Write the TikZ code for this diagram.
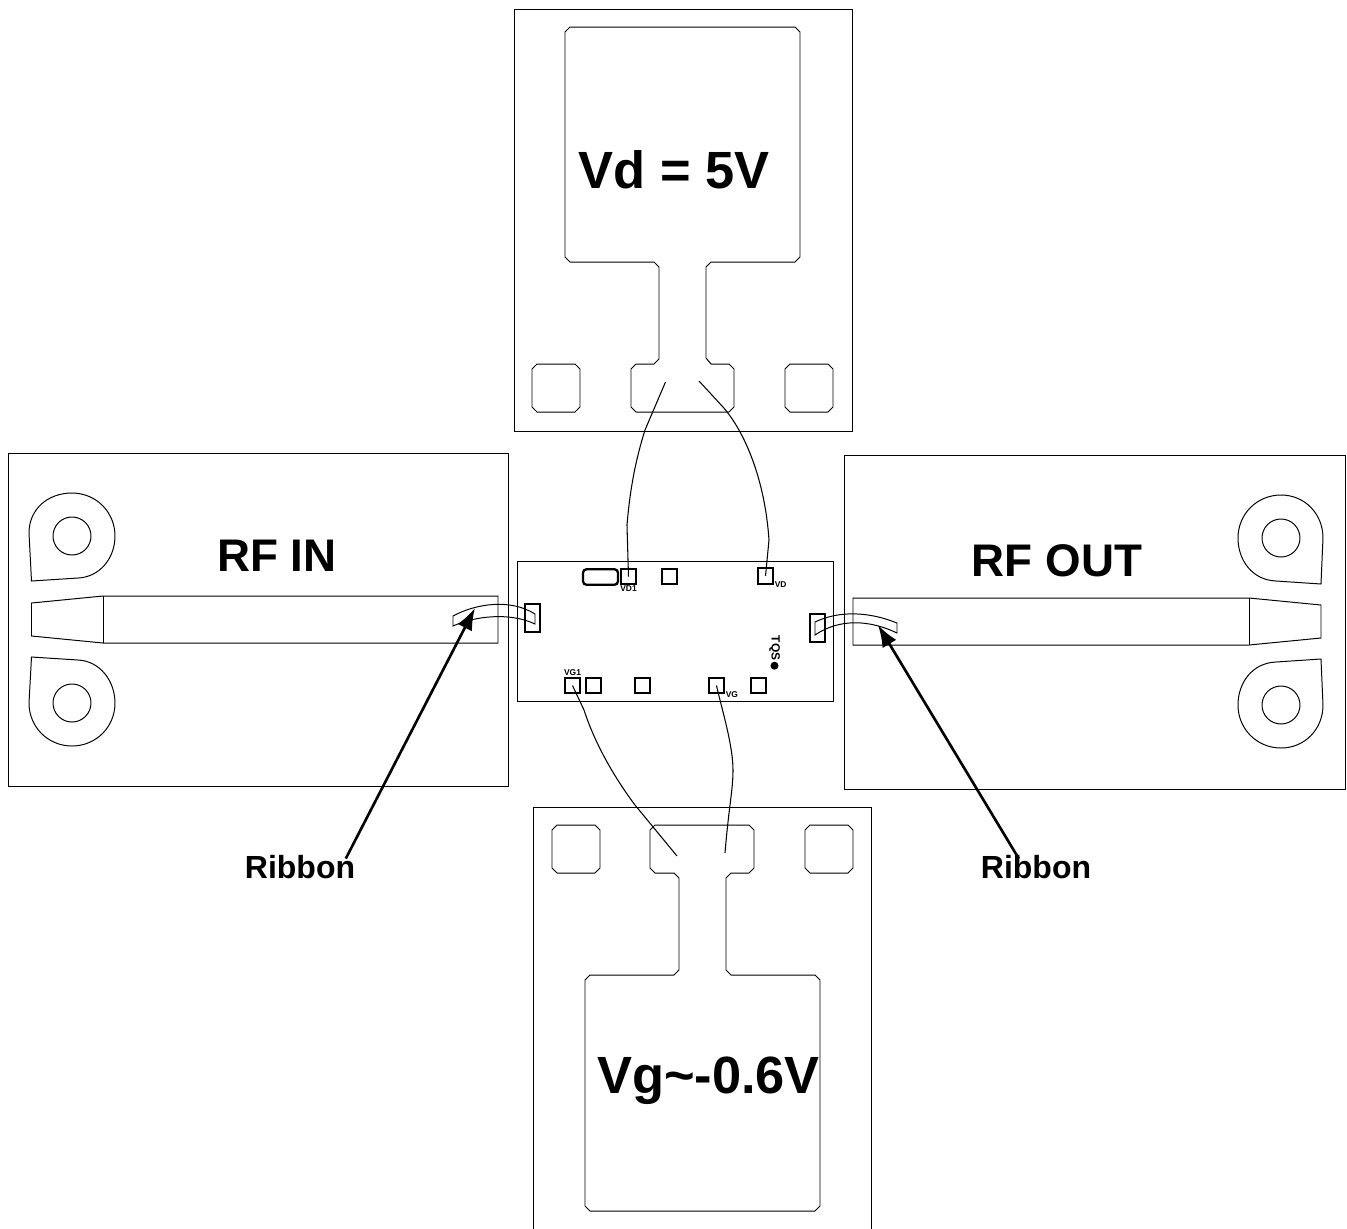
\documentclass[tikz,border=0pt]{standalone}
\usepackage{fontspec}
\setmainfont{Liberation Sans}
\usetikzlibrary{positioning, arrows.meta}

\begin{document}
\begin{tikzpicture}[
    x=0.01cm, y=-0.01cm,
    node distance=1pt and 1pt,
    outline/.style={draw=black, line width=0.28pt, line join=miter},
    chippad/.style={rectangle, draw=black, line width=0.65pt, minimum width=0.15cm, minimum height=0.155cm, inner sep=0pt},
    ribbonpad/.style={rectangle, draw=black, line width=0.65pt, minimum width=0.15cm, minimum height=0.285cm, inner sep=0pt},
    wire/.style={draw=black, line width=0.3pt},
    pointer/.style={draw=black, line width=0.75pt, -{Latex[length=0.22cm, width=0.16cm]}},
    biglabel/.style={font=\fontsize{14.9pt}{16pt}\selectfont\bfseries, inner sep=0pt},
    rflabel/.style={font=\fontsize{13pt}{15pt}\selectfont\bfseries, inner sep=0pt},
    ribbonlabel/.style={font=\fontsize{9.1pt}{11pt}\selectfont\bfseries, inner sep=0pt},
    chiplabel/.style={font=\fontsize{2.4pt}{3pt}\selectfont\bfseries, inner sep=0pt}
    ]

    \useasboundingbox (0,0) rectangle (1347,1229);

    % Panels
    \draw [outline] (514,9) rectangle (852,431);
    \draw [outline] (533,1229) -- (533,807) -- (871,807) -- (871,1229);
    \draw [outline] (8,453) rectangle (508,786);
    \draw [outline] (844,455) rectangle (1345,789);
    \draw [outline] (517,561) rectangle (833,701);

    % Vd pad
    \draw [outline] (570,27) -- (795,27) -- (800,32) -- (800,257) -- (795,262) -- (711,262) -- (706,267) -- (706,358) -- (711,364) -- (729,364) -- (734,369) -- (734,407) -- (729,412) -- (636,412) -- (631,407) -- (631,369) -- (636,364) -- (654,364) -- (659,359) -- (659,267) -- (654,262) -- (570,262) -- (565,257) -- (565,32) -- cycle;

    % Vg pad
    \draw [outline] (655,825) -- (749,825) -- (754,830) -- (754,868) -- (749,873) -- (731,873) -- (726,878) -- (726,970) -- (731,975) -- (815,975) -- (820,980) -- (820,1206) -- (815,1211) -- (590,1211) -- (585,1206) -- (585,980) -- (590,975) -- (674,975) -- (679,970) -- (679,878) -- (674,873) -- (655,873) -- (650,868) -- (650,830) -- cycle;

    % Side pads
    \foreach \cx/\cy in {556/388, 809/388, 576/849, 829/849} {
        \draw [outline, shift={(\cx,\cy)}] (-19,-24) -- (19,-24) -- (24,-19) -- (24,19) -- (19,24) -- (-19,24) -- (-24,19) -- (-24,-19) -- cycle;
    }

    % RF IN line
    \draw [outline] (31.5,603) -- (31.5,636) -- (103,643) -- (498,643) -- (498,596) -- (103,596) -- cycle;
    \draw [outline] (103,596) -- (103,643);
    \draw [outline] (31.5,581) -- (29,533) .. controls (29,509) and (48,493) .. (72,493) .. controls (96,493) and (115,512) .. (115,536) .. controls (115,558) and (100,577) .. (78,578) -- cycle;
    \draw [outline] (31.5,657) -- (29,703) .. controls (29,727) and (48,746) .. (72,746) .. controls (96,746) and (115,727) .. (115,703) .. controls (115,681) and (100,661) .. (78,660) -- cycle;
    \draw [outline] (72,536) circle (19);
    \draw [outline] (72,703) circle (19);

    % RF OUT line
    \draw [outline] (1321,605) -- (1321,638) -- (1249,645) -- (853,645) -- (853,598) -- (1249,598) -- cycle;
    \draw [outline] (1249,598) -- (1249,645);
    \draw [outline] (1321,584) -- (1323,538) .. controls (1323,514) and (1305,495) .. (1281,495) .. controls (1257,495) and (1238,514) .. (1238,538) .. controls (1238,560) and (1252,580) .. (1276,581) -- cycle;
    \draw [outline] (1321,659) -- (1323,705) .. controls (1323,729) and (1305,748) .. (1281,748) .. controls (1257,748) and (1238,729) .. (1238,705) .. controls (1238,683) and (1252,663) .. (1276,662) -- cycle;
    \draw [outline] (1281,538) circle (19);
    \draw [outline] (1281,705) circle (19);

    % Chip pads
    \node (vd1) [chippad] at (628.5,576.5) {};
    \node (cap) [chippad, minimum width=0.35cm, rounded corners=1pt] at (600.5,577) {};
    \node (top2) [chippad] at (669.5,576.5) {};
    \node (vd) [chippad] at (765.5,576) {};
    \node (vg1) [chippad] at (572.5,685.5) {};
    \node (bot2) [chippad] at (593.5,685.5) {};
    \node (bot3) [chippad] at (642.5,685.5) {};
    \node (vg) [chippad] at (716.5,685.5) {};
    \node (bot5) [chippad] at (758.5,685.5) {};
    \node (inpad) [ribbonpad] at (532.5,618) {};
    \node (outpad) [ribbonpad] at (817.5,628) {};

    % Chip labels
    \node (vd1text) [chiplabel, below=0pt of vd1] {VD1};
    \node (vdtext) [chiplabel, right=0pt of vd.south east] {VD};
    \node (vg1text) [chiplabel, above=0pt of vg1] {VG1};
    \node (vgtext) [chiplabel, right=0pt of vg.south east] {VG};
    \node (logo) [chiplabel, font=\fontsize{3.4pt}{4pt}\selectfont\bfseries, rotate=-90] at (774.5,648) {TQS};
    \node (logodot) [circle, fill=black, inner sep=0pt, minimum size=0.08cm, below=0pt of logo.east] {};

    % Ribbons
    \draw [outline] (453,616) .. controls (475,604) and (510,598) .. (535,614) -- (535,624) .. controls (510,612) and (475,616) .. (453,626) -- cycle;
    \draw [outline] (815,622) .. controls (840,610) and (870,612) .. (897,623) -- (897,633) .. controls (870,620) and (840,618) .. (815,635) -- cycle;

    % Bond wires
    \coordinate (vdendl) at (665.5,382);
    \coordinate (vdendr) at (699,381);
    \coordinate (vgendl) at (677,856);
    \coordinate (vgendr) at (725,853);
    \draw [wire] (vdendl) -- (645,430) .. controls (635,462) and (630,490) .. (627,525) -- (vd1.center);
    \draw [wire] (vdendr) -- (723,407) .. controls (745,432) and (765,480) .. (769,540) -- (vd.center);
    \draw [wire] (vg1.center) -- (584,710) .. controls (597,750) and (620,785) .. (635,805) -- (vgendl);
    \draw [wire] (vg.center) .. controls (722,710) and (733,745) .. (733,770) .. controls (733,790) and (729,805) .. (vgendr);

    % Labels
    \node (vdlabel) [biglabel] at (674,170) {Vd = 5V};
    \node (vglabel) [biglabel] at (708.5,1081) {Vg\textasciitilde-0.6V};
    \node (rfin) [rflabel] at (277,556) {RF IN};
    \node (rfout) [rflabel] at (1057,561) {RF OUT};
    \node (ribbonin) [ribbonlabel] at (300,867) {Ribbon};
    \node (ribbonout) [ribbonlabel] at (1036,867) {Ribbon};

    % Arrows
    \coordinate (intip) at (475,608);
    \coordinate (outtip) at (878,625);
    \draw [pointer] ([xshift=-0.1cm, yshift=-0.04cm]ribbonin.north east) -- (intip);
    \draw [pointer] ([xshift=-0.73cm, yshift=-0.04cm]ribbonout.north east) -- (outtip);
\end{tikzpicture}
\end{document}
